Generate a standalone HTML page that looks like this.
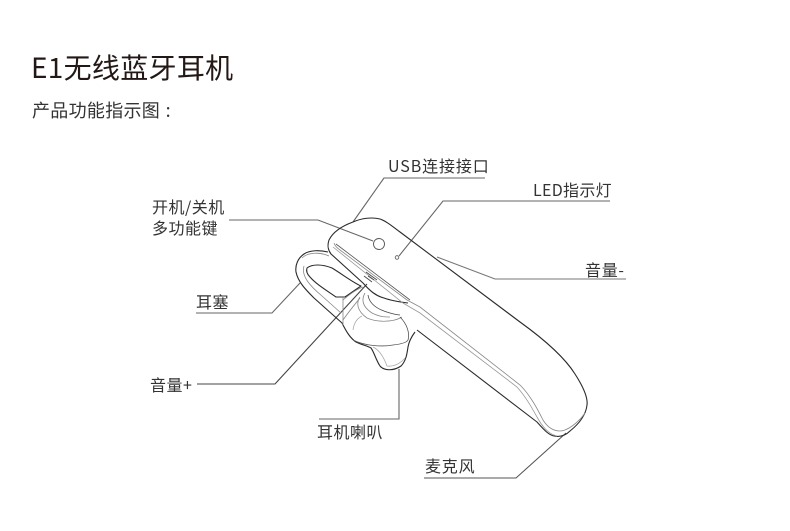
<!DOCTYPE html>
<html><head><meta charset="utf-8"><style>
html,body{margin:0;padding:0;background:#fff}
svg{display:block}
text{font-family:"Noto Sans CJK SC","Liberation Sans",sans-serif;fill:#333}
</style></head><body>
<svg width="790" height="531" viewBox="0 0 790 531" xmlns="http://www.w3.org/2000/svg">
<text x="31" y="78" font-size="28" letter-spacing="0.3" style="fill:#231815">E1无线蓝牙耳机</text>
<text x="32" y="117" font-size="18" letter-spacing="0.3">产品功能指示图<tspan dx="5.5">:</tspan></text>
<g font-size="16" letter-spacing="0.5">
<text x="388" y="172" letter-spacing="0.9">USB连接接口</text>
<text x="533" y="196" letter-spacing="0.3">LED指示灯</text>
<text x="152" y="213">开机/关机</text>
<text x="152" y="234">多功能键</text>
<text x="585" y="276" letter-spacing="0.7">音量-</text>
<text x="196" y="308">耳塞</text>
<text x="150" y="391">音量+</text>
<text x="317" y="438">耳机喇叭</text>
<text x="425" y="472" letter-spacing="0.8">麦克风</text>
</g>
<g fill="none" stroke="#666" stroke-width="1.1">
<path d="M485 178H384L353 222"/>
<path d="M610 201H443L399 256"/>
<path d="M626 279H495L437 257" stroke="#777"/>
<path d="M229 220H318L373 241"/>
<path d="M196 313H272L300 283"/>
<path d="M197 384H275L367 284" stroke="#444"/>
<path d="M319 419H399V369"/>
<path d="M424 478H516L566 433" stroke="#555"/>
</g>
<g fill="none" stroke="#2a2a2a" stroke-width="1.1" stroke-linejoin="round">
<path d="M353 222C362 218 372 217 380 219C386 221 392 226 400 232L520 322C545 340 565 358 575 374C584 388 588 398 587 405C586 414 580 423 570 431C565 436 559 437 554 436C549 435 545 431 537 422L417 330"/>
<path d="M353 222C342 226 333 232 329 240C327 246 328 250 331 254L363 283C370 291 376 296 384 298C392 301 400 302 408 303"/>
<path d="M328 252C320 250 310 250 304 254C298 258 295 265 296 272C298 282 306 290 314 298L342 323C346 331 350 338 356 342C362 345 368 346 371 348C374 352 376 360 380 366C384 371 394 371 401 366C406 361 407 354 408 347C409 341 412 336 415 332"/>
<path d="M307 268C312 264 322 264 332 268C342 274 352 282 361 286L345 297H336C326 290 316 284 310 277C307 274 306 271 307 268Z"/>
</g>
<g fill="none" stroke="#888" stroke-width="0.8">
<path d="M334 243C335 246 337 248 340 250L407 300L420 307L520 385C530 395 537 408 543 420C548 428 554 431 560 431C567 431 578 423 585 413"/>
<path d="M333 247L403 303L420 313L517 387C526 397 532 408 537 417C542 426 548 434 557 436" stroke="#999"/>
<path d="M336 244L410 300" stroke="#555"/>
<path d="M302 258C308 252 320 252 329 256"/>
<path d="M304 266C301 276 310 286 322 296L341 313"/>
<path d="M343 297V325"/>
<path d="M343 300C350 294 357 289 363 287"/>
<path d="M343 320C350 310 356 303 360 298"/>
<path d="M360 297C356 303 357 311 367 318C376 322 392 323 402 317"/>
<path d="M365 293C361 300 363 307 372 313C380 317 385 317 390 317"/>
<path d="M368 295C369 302 375 309 390 313C394 314 397 315 400 315" stroke="#444"/>
<path d="M353 340C365 346 382 347 393 345C402 344 407 342 408 340C410 333 407 324 400 317" stroke="#555"/>
<path d="M353 330C354 322 358 318 362 316" stroke="#aaa"/>
<path d="M373 347C380 350 384 358 387 366C393 367 400 364 405 358" stroke="#aaa"/>
<path d="M366 272L377 280M368 276L374 280M364 276L372 282" stroke="#444"/>
</g>
<circle cx="379" cy="244" r="5.5" fill="#fff" stroke="#555" stroke-width="0.9"/>
<circle cx="397" cy="257.500" r="1.800" fill="#fff" stroke="#555" stroke-width="0.8"/>
</svg>
</body></html>
